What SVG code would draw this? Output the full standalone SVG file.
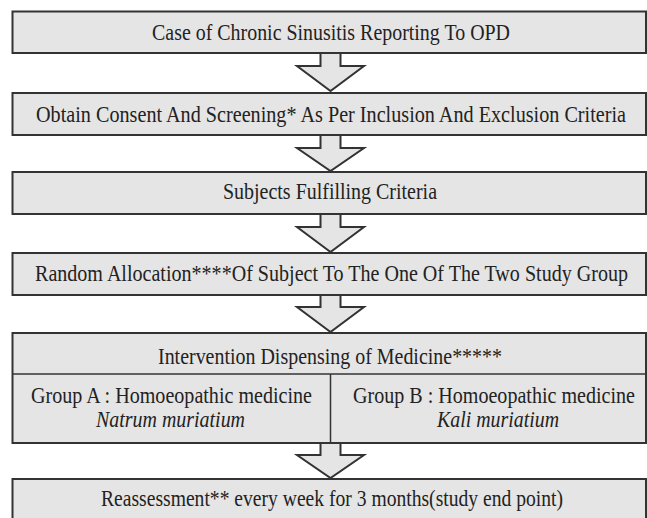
<svg xmlns="http://www.w3.org/2000/svg" width="647" height="518" viewBox="0 0 647 518">
<style>
.box{fill:#e5e5e5;stroke:#333;stroke-width:2}
.arr{fill:#e5e5e5;stroke:#333;stroke-width:2;stroke-linejoin:miter}
.ln{stroke:#333;stroke-width:1.5;fill:none}
text{font-family:"Liberation Serif","Times New Roman",serif;font-size:23px;fill:#222;text-anchor:middle}
.it{font-style:italic}
</style>
<rect width="647" height="518" fill="#fff"/>
<g id="connectors">
<path class="arr" d="M320.5,53 V66 H297 L330.5,91 L364,66 H340.5 V53"/>
<path class="arr" d="M320.5,135 V148 H297 L330.5,171 L364,148 H340.5 V135"/>
<path class="arr" d="M320.5,214 V227 H297 L330.5,252 L364,227 H340.5 V214"/>
<path class="arr" d="M320.5,295 V307 H297 L330.5,332 L364,307 H340.5 V295"/>
<path class="arr" d="M320.5,443 V455 H297 L330.5,478 L364,455 H340.5 V443"/>
</g>
<g id="n1"><rect class="box" x="12.5" y="11.5" width="633.5" height="41.5"/>
<text x="331" y="40" textLength="358" lengthAdjust="spacingAndGlyphs">Case of Chronic Sinusitis Reporting To OPD</text></g>
<g id="n2"><rect class="box" x="12.5" y="93" width="633.5" height="42"/>
<text x="331" y="122" textLength="590" lengthAdjust="spacingAndGlyphs">Obtain Consent And Screening* As Per Inclusion And Exclusion Criteria</text></g>
<g id="n3"><rect class="box" x="12.5" y="172" width="633.5" height="42"/>
<text x="330" y="199" textLength="214" lengthAdjust="spacingAndGlyphs">Subjects Fulfilling Criteria</text></g>
<g id="n4"><rect class="box" x="12.5" y="253" width="633.5" height="42"/>
<text x="331.5" y="281" textLength="593" lengthAdjust="spacingAndGlyphs">Random Allocation****Of Subject To The One Of The Two Study Group</text></g>
<g id="n5"><rect class="box" x="12.5" y="333" width="633.5" height="110"/>
<line class="ln" x1="12.5" y1="374" x2="646" y2="374"/>
<line class="ln" x1="330.5" y1="374" x2="330.5" y2="443"/>
<text x="330" y="364" textLength="344" lengthAdjust="spacingAndGlyphs">Intervention Dispensing of Medicine*****</text>
<text x="171.5" y="403" textLength="281" lengthAdjust="spacingAndGlyphs">Group A : Homoeopathic medicine</text>
<text class="it" x="170.5" y="427" textLength="149" lengthAdjust="spacingAndGlyphs">Natrum muriatium</text>
<text x="494" y="403" textLength="282" lengthAdjust="spacingAndGlyphs">Group B : Homoeopathic medicine</text>
<text class="it" x="498" y="427" textLength="122" lengthAdjust="spacingAndGlyphs">Kali muriatium</text></g>
<g id="n6"><rect class="box" x="12.5" y="479" width="633.5" height="60"/>
<text x="332" y="506" textLength="462" lengthAdjust="spacingAndGlyphs">Reassessment** every week for 3 months(study end point)</text></g>
</svg>
